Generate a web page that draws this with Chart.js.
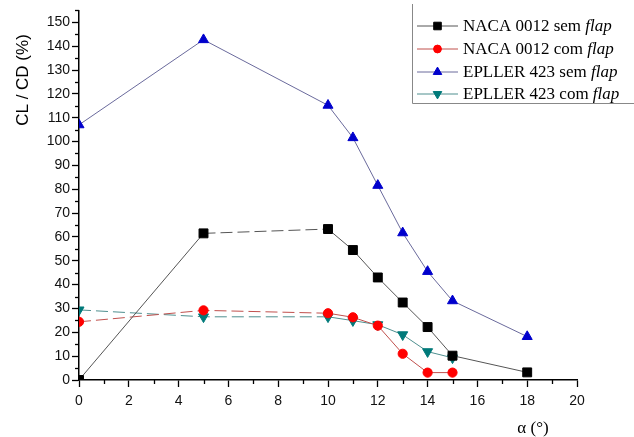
<!DOCTYPE html>
<html>
<head>
<meta charset="utf-8">
<script src="https://cdn.jsdelivr.net/npm/chart.js@4"></script>
<style>
  html, body { margin: 0; padding: 0; background: #fff; }
  #wrap { width: 634px; height: 437px; position: relative; }
</style>
</head>
<body>
<div id="wrap"><canvas id="chart" width="634" height="437"></canvas></div>
<script>
// values
const alphaSem = [0, 5, 10, 11, 12, 13, 14, 15, 18];
const alphaCom = [0, 5, 10, 11, 12, 13, 14, 15];
const nacaSem = [0, 61.5, 63.3, 54.5, 43, 32.5, 22.2, 10.2, 3.2];
const nacaCom = [24.4, 29.2, 28, 26.3, 22.8, 11, 3.1, 3.1];
const epplerSem = [107, 142.7, 115.2, 101.6, 81.6, 61.7, 45.5, 33.2, 18.2];
const epplerCom = [29.4, 26.5, 26.5, 24.9, 23.2, 19, 11.9, 9.3];
const seriesNames = ['NACA 0012 sem ', 'NACA 0012 com ', 'EPLLER 423 sem ', 'EPLLER 423 com '];
const xTicks = [0, 2, 4, 6, 8, 10, 12, 14, 16, 18, 20];

const toPts = (xs, ys) => xs.map((x, i) => ({ x: x, y: ys[i] }));
const dashUntil = (limit, from) => ctx => {
  const x0 = ctx.p0.parsed.x;
  return (x0 >= from && x0 < limit) ? [12, 5] : undefined;
};

const series = [
  { data: toPts(alphaSem, nacaSem), line: '#555555', mark: '#000000', style: 'rect', r: 6.3, rot: 0, dash: dashUntil(10, 5) },
  { data: toPts(alphaCom, nacaCom), line: '#c0504d', mark: '#ff0000', style: 'circle', r: 4.6, rot: 0, dash: dashUntil(10, 0) },
  { data: toPts(alphaSem, epplerSem), line: '#6a6a9c', mark: '#0000cc', style: 'triangle', r: 5.8, rot: 0, dash: () => undefined },
  { data: toPts(alphaCom, epplerCom), line: '#4f8f8f', mark: '#007a7a', style: 'triangle', r: 5.8, rot: 180, dash: dashUntil(10, 0) }
];

// minor ticks, axis titles and the legend box
const extras = {
  id: 'extras',
  afterDraw(chart) {
    const c = chart.ctx;
    const xs = chart.scales.x, ys = chart.scales.y;
    c.save();
    c.strokeStyle = '#000';
    c.lineWidth = 1.3;
    for (let v = 1; v < 20; v += 2) {
      const px = Math.round(xs.getPixelForValue(v)) + 0.5;
      c.beginPath(); c.moveTo(px, xs.top); c.lineTo(px, xs.top + 4); c.stroke();
    }
    for (let v = 5; v <= 155; v += 10) {
      const py = Math.round(ys.getPixelForValue(v)) + 0.5;
      c.beginPath(); c.moveTo(ys.right, py); c.lineTo(ys.right - 4, py); c.stroke();
    }

    // y title
    c.fillStyle = '#000';
    c.font = '17px "Liberation Sans", Arial, sans-serif';
    c.translate(23, 80);
    c.rotate(-Math.PI / 2);
    c.textAlign = 'center';
    c.textBaseline = 'middle';
    c.fillText('CL / CD (%)', 0, 0);
    c.setTransform(1, 0, 0, 1, 0, 0);

    // x title
    c.font = '17px "Liberation Serif", "Times New Roman", serif';
    c.textAlign = 'center';
    c.textBaseline = 'middle';
    c.fillText('\u03b1 (\u00b0)', 533, 429);

    // legend
    const lx = 412.5, top = 4, bottom = 103.5;
    c.fillStyle = '#fff';
    c.fillRect(lx, top, 634 - lx, bottom - top);
    c.strokeStyle = '#888';
    c.lineWidth = 1;
    c.beginPath(); c.moveTo(lx, top); c.lineTo(lx, bottom); c.lineTo(634, bottom); c.stroke();
    const rowsY = [26, 49, 72, 94];
    series.forEach((s, i) => {
      const y = rowsY[i];
      c.strokeStyle = s.line;
      c.lineWidth = 1;
      c.beginPath(); c.moveTo(417, y); c.lineTo(458, y); c.stroke();
      c.fillStyle = s.mark;
      c.strokeStyle = s.mark;
      Chart.helpers.drawPoint(c, { pointStyle: s.style, radius: s.r * 0.85, rotation: s.rot, borderWidth: 1 }, 437.5, y);
      c.fillStyle = '#000';
      c.textAlign = 'left';
      c.textBaseline = 'middle';
      c.font = '17px "Liberation Serif", "Times New Roman", serif';
      c.fillText(seriesNames[i], 463, y + 1);
      const w = c.measureText(seriesNames[i]).width;
      c.font = 'italic 17px "Liberation Serif", "Times New Roman", serif';
      c.fillText('flap', 463 + w, y + 1);
    });
    c.restore();
  }
};

new Chart(document.getElementById('chart'), {
  type: 'line',
  data: {
    datasets: series.map(s => ({
      data: s.data,
      borderColor: s.line,
      borderWidth: 1,
      backgroundColor: s.mark,
      pointBackgroundColor: s.mark,
      pointBorderColor: s.mark,
      pointStyle: s.style,
      pointRadius: s.r,
      pointRotation: s.rot,
      pointBorderWidth: 1,
      segment: { borderDash: s.dash },
      fill: false,
      tension: 0
    }))
  },
  options: {
    responsive: false,
    animation: false,
    devicePixelRatio: 1,
    layout: { padding: { top: 10, right: 57, left: 0, bottom: 0 } },
    plugins: { legend: { display: false }, tooltip: { enabled: false } },
    scales: {
      x: {
        type: 'linear',
        min: 0, max: 20,
        afterBuildTicks: scale => { scale.ticks = xTicks.map(v => ({ value: v })); },
        afterFit: scale => { scale.height = 57; },
        border: { color: '#000', width: 1.5 },
        grid: { drawOnChartArea: false, drawTicks: true, tickLength: 7, color: '#000', tickWidth: 1.3 },
        ticks: { autoSkip: false, color: '#111', padding: 6, font: { family: '"Liberation Sans", Arial, sans-serif', size: 14 }, maxRotation: 0 }
      },
      y: {
        min: 0, max: 155,
        afterBuildTicks: scale => {
          const t = [];
          for (let v = 0; v <= 150; v += 10) t.push({ value: v });
          scale.ticks = t;
        },
        afterFit: scale => { scale.width = 79; },
        border: { color: '#000', width: 1.5 },
        grid: { drawOnChartArea: false, drawTicks: true, tickLength: 7, color: '#000', tickWidth: 1.3 },
        ticks: { autoSkip: false, color: '#111', padding: 2, font: { family: '"Liberation Sans", Arial, sans-serif', size: 14 } }
      }
    }
  },
  plugins: [extras]
});
</script>
</body>
</html>
